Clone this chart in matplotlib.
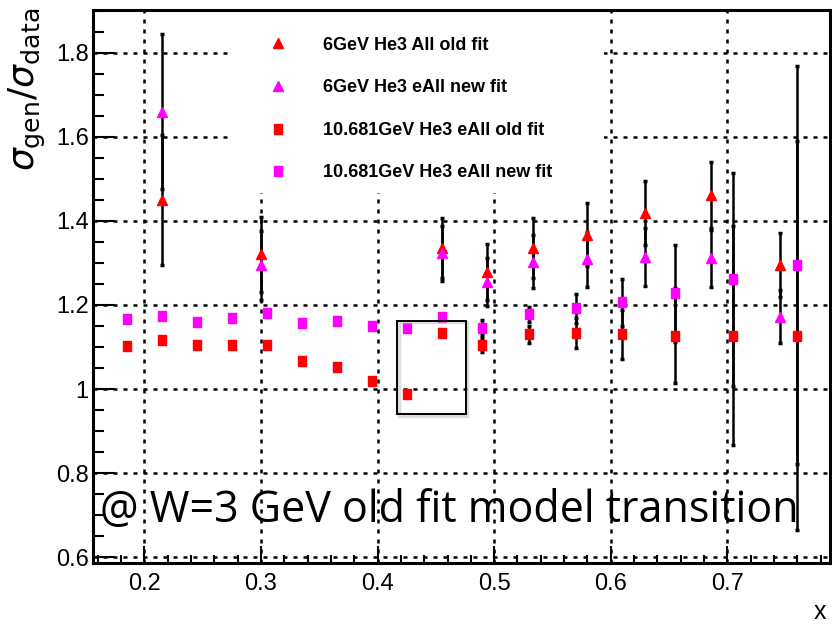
import numpy as np
import matplotlib
matplotlib.use("Agg")
import matplotlib.pyplot as plt
from matplotlib.patches import Rectangle
from matplotlib.ticker import MultipleLocator

plt.rcParams['font.family'] = ['Liberation Sans', 'DejaVu Sans']

# 6 GeV He3 points (triangles)
x_6 = [0.215, 0.300, 0.455, 0.494, 0.533, 0.580, 0.629, 0.686, 0.745]
r6_old = [1.450, 1.321, 1.335, 1.279, 1.336, 1.367, 1.418, 1.462, 1.295]
r6_old_err = [0.155, 0.089, 0.071, 0.066, 0.071, 0.075, 0.076, 0.078, 0.076]
r6_new = [1.660, 1.295, 1.323, 1.255, 1.303, 1.309, 1.315, 1.311, 1.172]
r6_new_err = [0.185, 0.082, 0.066, 0.058, 0.063, 0.065, 0.069, 0.067, 0.063]

# 10.681 GeV He3 points (squares)
x_10 = [0.185, 0.215, 0.245, 0.275, 0.305, 0.335, 0.365, 0.395, 0.425,
        0.455, 0.490, 0.530, 0.570, 0.610, 0.655, 0.705, 0.760]
r10_old = [1.102, 1.117, 1.105, 1.105, 1.105, 1.067, 1.053, 1.020, 0.988,
           1.133, 1.105, 1.130, 1.133, 1.130, 1.127, 1.127, 1.127]
r10_old_err = [0, 0, 0, 0, 0, 0, 0, 0, 0,
               0, 0.016, 0.021, 0.035, 0.059, 0.113, 0.260, 0.463]
r10_new = [1.166, 1.174, 1.160, 1.168, 1.182, 1.156, 1.162, 1.150, 1.145,
           1.172, 1.146, 1.178, 1.192, 1.206, 1.228, 1.261, 1.295]
r10_new_err = [0, 0, 0, 0, 0, 0, 0, 0, 0,
               0, 0.018, 0.018, 0.034, 0.056, 0.115, 0.253, 0.474]

labels = ['6GeV He3 All old fit', '6GeV He3 eAll new fit',
          '10.681GeV He3 eAll old fit', '10.681GeV He3 eAll new fit']

RED = '#ff0000'
MAG = '#ff00ff'
rect_marker = [(-0.4, -0.5), (0.4, -0.5), (0.4, 0.5), (-0.4, 0.5), (-0.4, -0.5)]

fig = plt.figure(figsize=(8.32, 6.3), dpi=100)
ax = fig.add_axes([93 / 832, 1 - 563 / 630, 737 / 832, 553 / 630])

ax.set_xlim(0.156, 0.788)
ax.set_ylim(0.586, 1.902)

# grid
ax.set_axisbelow(True)
ax.xaxis.set_major_locator(MultipleLocator(0.1))
ax.xaxis.set_minor_locator(MultipleLocator(0.02))
ax.yaxis.set_major_locator(MultipleLocator(0.2))
ax.yaxis.set_minor_locator(MultipleLocator(0.05))
ax.grid(True, which='major', color='black', linestyle=(0, (1.6, 2.4)), linewidth=1.8)

# white legend area covering the grid
ax.add_patch(Rectangle((0.2738, 1.467), 0.32, 0.45, facecolor='white',
                       edgecolor='none', zorder=1))

err_kw = dict(fmt='none', ecolor='black', elinewidth=1.8, capsize=1.2,
              capthick=2.5, zorder=3)
ax.errorbar(x_6, r6_old, yerr=r6_old_err, **err_kw)
ax.errorbar(x_6, r6_new, yerr=r6_new_err, **err_kw)
ax.errorbar(x_10[10:], r10_old[10:], yerr=r10_old_err[10:], **err_kw)
ax.errorbar(x_10[10:], r10_new[10:], yerr=r10_new_err[10:], **err_kw)

ax.plot(x_6, r6_old, ls='none', marker='^', ms=7.2, color=RED, mec=RED,
        zorder=4, label=labels[0])
ax.plot(x_6, r6_new, ls='none', marker='^', ms=7.2, color=MAG, mec=MAG,
        zorder=4, label=labels[1])
ax.plot(x_10, r10_old, ls='none', marker=rect_marker, ms=7.5, color=RED,
        mec=RED, zorder=4, label=labels[2])
ax.plot(x_10, r10_new, ls='none', marker=rect_marker, ms=7.5, color=MAG,
        mec=MAG, zorder=4, label=labels[3])

# box around the transition points
ax.add_patch(Rectangle((0.4185, 0.937), 0.0585, 0.2225, facecolor='none',
                       edgecolor='#bbbbbb', linewidth=2.5, alpha=0.5, zorder=4))
ax.add_patch(Rectangle((0.417, 0.940), 0.0585, 0.2225, facecolor='none',
                       edgecolor='black', linewidth=1.4, zorder=5))

leg = ax.legend(loc='upper left', bbox_to_anchor=(0.2388, 0.952), frameon=False,
                borderpad=0, borderaxespad=0, handlelength=1.0,
                handletextpad=2.0, labelspacing=1.42,
                prop={'family': 'Liberation Sans', 'weight': 'bold', 'size': 13})

# spines and ticks
for s in ax.spines.values():
    s.set_linewidth(2.2)
ax.tick_params(axis='y', which='major', direction='in', length=16, width=1.5,
               labelsize=17, pad=3)
ax.tick_params(axis='y', which='minor', direction='in', length=8, width=1.5)
ax.tick_params(axis='x', which='major', direction='in', length=12, width=1.5,
               labelsize=17, pad=7)
ax.tick_params(axis='x', which='minor', direction='in', length=6, width=1.5)
ax.set_yticks([0.6, 0.8, 1.0, 1.2, 1.4, 1.6, 1.8])
ax.set_yticklabels(['0.6', '0.8', '1', '1.2', '1.4', '1.6', '1.8'])
ax.set_xticks([0.2, 0.3, 0.4, 0.5, 0.6, 0.7])
ax.set_xticklabels(['0.2', '0.3', '0.4', '0.5', '0.6', '0.7'])

fig.text(27 / 832, 1 - 8 / 630, r'$\sigma_{\rm gen}/\sigma_{\rm data}$',
         rotation=90, ha='center', va='top', fontsize=26)
fig.text(820 / 832, 1 - 612 / 630, 'x', ha='center', va='center', fontsize=18)

fig.text(100 / 832, 1 - 521 / 630, '@ W=3 GeV old fit model transition',
         ha='left', va='baseline', fontsize=31, family='Open Sans')

fig.savefig('out.png', dpi=100)
